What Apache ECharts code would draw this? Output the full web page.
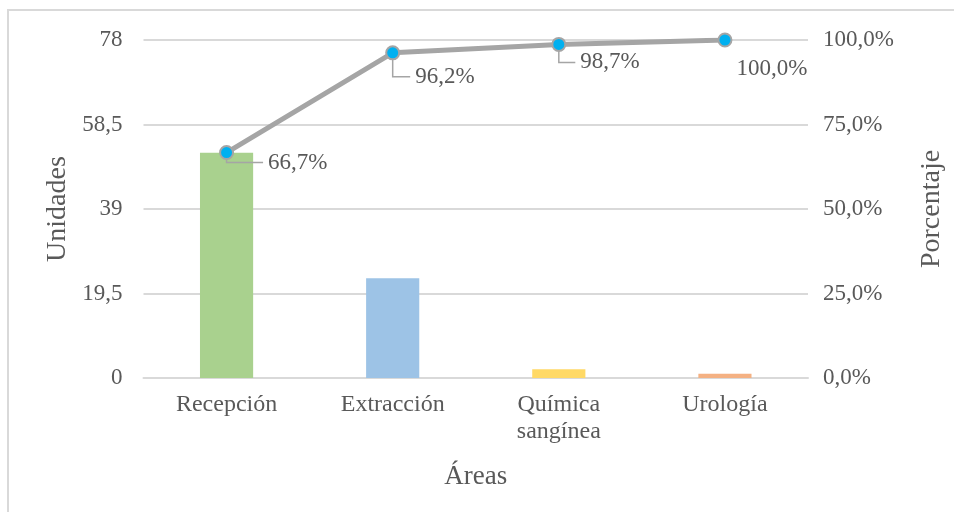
<!DOCTYPE html>
<html>
<head>
<meta charset="utf-8">
<script src="https://cdn.jsdelivr.net/npm/echarts@6/dist/echarts.min.js"></script>
<style>
  html, body { margin: 0; padding: 0; background: #fff; }
  #chart { width: 954px; height: 512px; }
</style>
</head>
<body>
<div id="chart"></div>
<script>
// Pareto de unidades por área
const categories = ['Recepción', 'Extracción', 'Química\nsangínea', 'Urología'];
const units = [52, 23, 2, 1];
const cumulativePct = [0.667, 0.962, 0.987, 1.0];
const barColors = ['#a9d18e', '#9dc3e6', '#ffd966', '#f4b183'];
const unitTicks = { min: 0, max: 78, interval: 19.5 };
const pctTicks = { min: 0, max: 1, interval: 0.25 };

// label offsets for the cumulative line (dx, dy in px) and whether a leader is drawn
const labelOffsets = [[29, 10], [10, 24], [9, 18], [-1, 29]];
const showLeader = [true, true, true, false];

const symbolSize = 13;
const labelDistance = 5;

const fmtComma = (v, digits) => v.toFixed(digits).replace('.', ',');
const textColor = '#595959';
const font = 'Liberation Serif';

const chart = echarts.init(document.getElementById('chart'), null, { renderer: 'canvas' });

chart.setOption({
  backgroundColor: '#ffffff',
  animation: false,
  textStyle: { fontFamily: font, color: textColor },
  graphic: [{
    type: 'rect',
    shape: { x: 8, y: 10, width: 980, height: 540 },
    style: { fill: 'none', stroke: '#d9d9d9', lineWidth: 2 },
    silent: true
  }],
  grid: { left: 143.5, right: 146, top: 40, bottom: 134 },
  xAxis: {
    type: 'category',
    data: categories,
    name: 'Áreas',
    nameLocation: 'middle',
    nameGap: 85,
    nameTextStyle: { fontSize: 27, color: textColor, fontFamily: font },
    axisLine: { show: true, lineStyle: { color: '#d9d9d9', width: 2 } },
    axisTick: { show: false },
    axisLabel: { fontSize: 24, color: textColor, fontFamily: font, margin: 13, lineHeight: 27, interval: 0 }
  },
  yAxis: [{
    type: 'value',
    min: unitTicks.min, max: unitTicks.max, interval: unitTicks.interval,
    name: 'Unidades',
    nameLocation: 'middle',
    nameGap: 68,
    nameRotate: 90,
    nameTextStyle: { fontSize: 28, color: textColor, fontFamily: font },
    axisLine: { show: false },
    axisTick: { show: false },
    splitLine: { lineStyle: { color: '#d9d9d9', width: 2 } },
    axisLabel: {
      fontSize: 23, color: textColor, fontFamily: font, margin: 21,
      formatter: v => (Number.isInteger(v) ? String(v) : fmtComma(v, 1))
    }
  }, {
    type: 'value',
    position: 'right',
    min: pctTicks.min, max: pctTicks.max, interval: pctTicks.interval,
    name: 'Porcentaje',
    nameLocation: 'middle',
    nameGap: 110,
    nameRotate: 90,
    nameTextStyle: { fontSize: 28, color: textColor, fontFamily: font },
    axisLine: { show: false },
    axisTick: { show: false },
    splitLine: { show: false },
    axisLabel: {
      fontSize: 23, color: textColor, fontFamily: font, margin: 15,
      formatter: v => fmtComma(v * 100, 1) + '%'
    }
  }],
  series: [{
    type: 'bar',
    yAxisIndex: 0,
    barWidth: '32%',
    data: units.map((v, i) => ({ value: v, itemStyle: { color: barColors[i] } }))
  }, {
    // elbow leader lines from each marker to its label
    type: 'custom',
    yAxisIndex: 1,
    silent: true,
    z: 3,
    data: cumulativePct.map((v, i) => [i, v]),
    encode: { x: 0, y: 1 },
    renderItem: (params, api) => {
      const i = params.dataIndex;
      if (!showLeader[i]) return null;
      const [cx, cy] = api.coord([api.value(0), api.value(1)]);
      const [dx, dy] = labelOffsets[i];
      const ly = cy + dy;
      const lx = cx + symbolSize / 2 + labelDistance + dx - 4;
      return {
        type: 'polyline',
        shape: { points: [[cx, cy], [cx, ly], [lx, ly]] },
        style: { stroke: '#a5a5a5', lineWidth: 1.5, fill: null }
      };
    }
  }, {
    type: 'line',
    yAxisIndex: 1,
    data: cumulativePct,
    symbol: 'circle',
    symbolSize: symbolSize,
    lineStyle: { color: '#a5a5a5', width: 5 },
    itemStyle: { color: '#00b0f0', borderColor: '#a5a5a5', borderWidth: 2 },
    z: 5,
    label: {
      show: true,
      position: 'right',
      distance: labelDistance,
      fontSize: 23,
      color: textColor,
      fontFamily: font,
      formatter: p => fmtComma(p.value * 100, 1) + '%'
    },
    labelLine: { show: false },
    labelLayout: p => {
      const [dx, dy] = labelOffsets[p.dataIndex];
      return { dx, dy };
    }
  }]
});
</script>
</body>
</html>
